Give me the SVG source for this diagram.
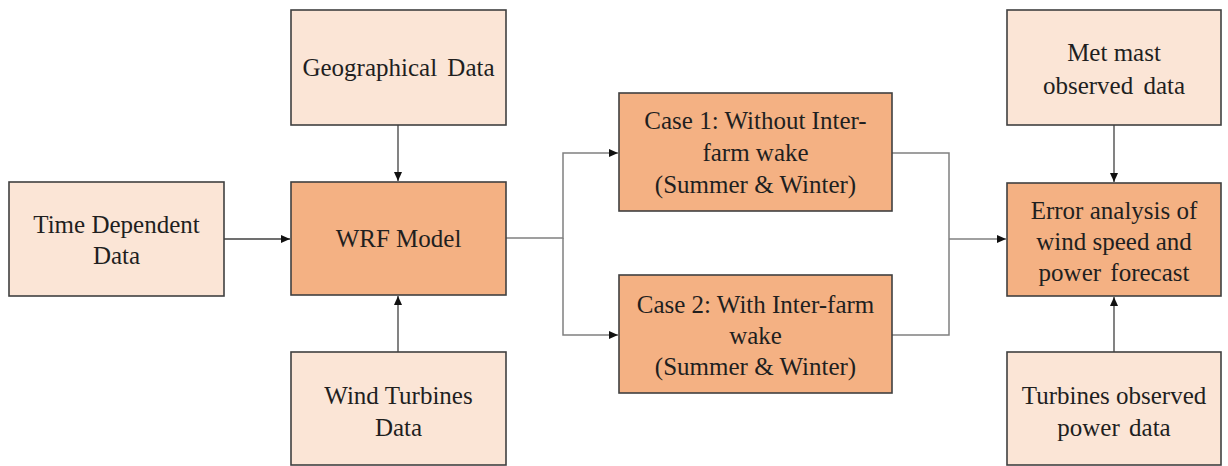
<svg xmlns="http://www.w3.org/2000/svg" width="1228" height="466" viewBox="0 0 1228 466">
  <style>
    .light { fill: #FBE5D6; stroke: #404040; stroke-width: 1.6; }
    .dark { fill: #F4B183; stroke: #404040; stroke-width: 1.6; }
    .lbl { font-family: "Liberation Serif", "Times New Roman", serif; font-size: 25px; fill: #1f1f1f; text-anchor: middle; }
    .conn { fill: none; stroke: #808080; stroke-width: 1.5; }
    .conn-d { fill: none; stroke: #404040; stroke-width: 1.3; }
  </style>
  <defs>
    <marker id="arr" markerUnits="userSpaceOnUse" markerWidth="10" markerHeight="10" refX="9" refY="5" orient="auto">
      <path d="M0,1 L9,5 L0,9 Z" fill="#111111"/>
    </marker>
  </defs>
  <rect width="1228" height="466" fill="#ffffff"/>

  <g id="connectors">
    <line class="conn-d" x1="224" y1="239" x2="290" y2="239" marker-end="url(#arr)"/>
    <line class="conn-d" x1="398" y1="125" x2="398" y2="181" marker-end="url(#arr)"/>
    <line class="conn-d" x1="398" y1="352" x2="398" y2="296" marker-end="url(#arr)"/>
    <polyline class="conn" points="506,238 563,238 563,153 618,153" marker-end="url(#arr)"/>
    <polyline class="conn" points="563,238 563,335 618,335" marker-end="url(#arr)"/>
    <polyline class="conn" points="892,153 949,153 949,335 892,335"/>
    <line class="conn" x1="949" y1="239" x2="1006" y2="239" marker-end="url(#arr)"/>
    <line class="conn-d" x1="1114" y1="125" x2="1114" y2="182" marker-end="url(#arr)"/>
    <line class="conn-d" x1="1114" y1="352" x2="1114" y2="297" marker-end="url(#arr)"/>
  </g>

  <g id="time-dependent">
    <rect class="light" x="9" y="182" width="215" height="114"/>
    <text class="lbl" x="116.5" y="233">Time Dependent</text>
    <text class="lbl" x="116.5" y="264">Data</text>
  </g>

  <g id="geographical">
    <rect class="light" x="291" y="10" width="215" height="115"/>
    <text class="lbl" x="398.5" y="76" word-spacing="4">Geographical Data</text>
  </g>

  <g id="wrf">
    <rect class="dark" x="291" y="182" width="215" height="113"/>
    <text class="lbl" x="398.5" y="247">WRF Model</text>
  </g>

  <g id="wind-turbines">
    <rect class="light" x="291" y="352" width="215" height="113"/>
    <text class="lbl" x="398.5" y="404">Wind Turbines</text>
    <text class="lbl" x="398.5" y="436">Data</text>
  </g>

  <g id="case1">
    <rect class="dark" x="619" y="93" width="273" height="118"/>
    <text class="lbl" x="755.5" y="129">Case 1: Without Inter-</text>
    <text class="lbl" x="755.5" y="161">farm wake</text>
    <text class="lbl" x="755.5" y="193">(Summer &amp; Winter)</text>
  </g>

  <g id="case2">
    <rect class="dark" x="619" y="275" width="273" height="118"/>
    <text class="lbl" x="755.5" y="313">Case 2: With Inter-farm</text>
    <text class="lbl" x="755.5" y="344">wake</text>
    <text class="lbl" x="755.5" y="375">(Summer &amp; Winter)</text>
  </g>

  <g id="met-mast">
    <rect class="light" x="1007" y="10" width="214" height="115"/>
    <text class="lbl" x="1114" y="61">Met mast</text>
    <text class="lbl" x="1114" y="94" word-spacing="4">observed data</text>
  </g>

  <g id="error-analysis">
    <rect class="dark" x="1007" y="183" width="214" height="113"/>
    <text class="lbl" x="1114" y="219">Error analysis of</text>
    <text class="lbl" x="1114" y="250">wind speed and</text>
    <text class="lbl" x="1114" y="281" word-spacing="3">power forecast</text>
  </g>

  <g id="turbines-observed">
    <rect class="light" x="1007" y="352" width="214" height="113"/>
    <text class="lbl" x="1114" y="404">Turbines observed</text>
    <text class="lbl" x="1114" y="436" word-spacing="3">power data</text>
  </g>
</svg>
